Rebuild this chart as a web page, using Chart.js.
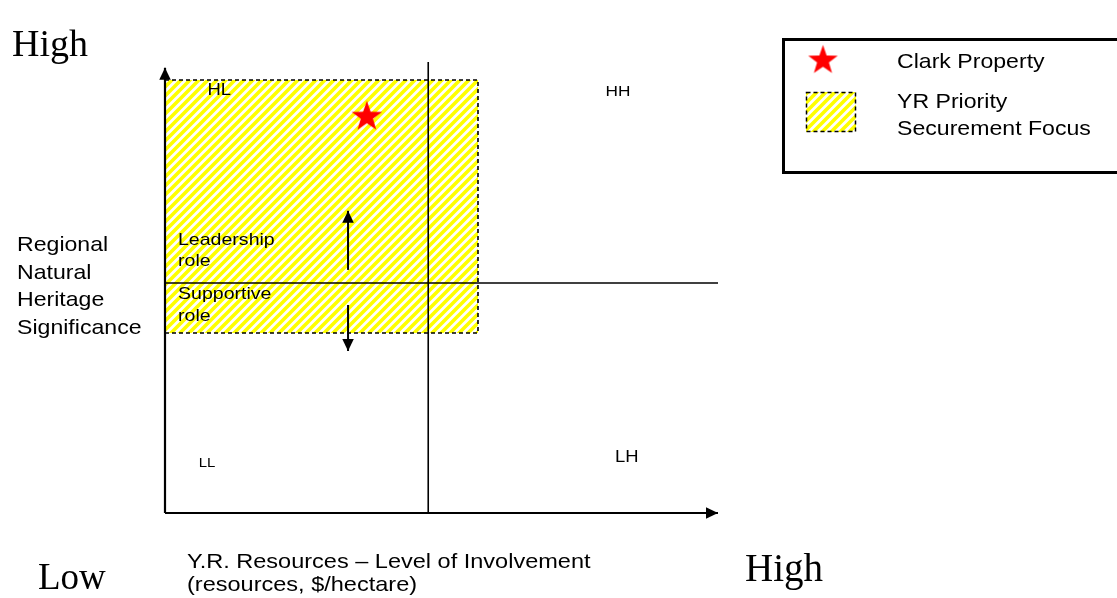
<!DOCTYPE html>
<html>
<head>
<meta charset="utf-8">
<script src="https://cdn.jsdelivr.net/npm/chart.js@4.4.0/dist/chart.umd.min.js"></script>
<style>
html,body{margin:0;padding:0;background:#fff;}
#wrap{width:1117px;height:598px;position:relative;}
</style>
</head>
<body>
<div id="wrap"><canvas id="c" width="1117" height="598"></canvas></div>
<script>
// ---- data (axis units 0..100 on both axes) ----
const xDivider = 47.6;               // resources split (Low | High)
const yDivider = 51;                 // significance split
const axisMaxX = 100;
const axisMaxY = 98.7;               // y-axis arrow tip
const dividerTopY = 100;
const focusX = [0, 56.6];            // YR Priority Securement Focus area
const focusY = [39.9, 96];
const clarkProperty = [{x: 36.5, y: 88.2}];
const quadrantLabels = ['HL', 'HH', 'LL', 'LH'];
const quadrantX = [9.8, 81.9, 7.6, 83.5];
const quadrantY = [93.6, 93.4, 11.1, 12.2];
const roleLabels = [['Leadership', 'role'], ['Supportive', 'role']];
const roleX = [2.35, 2.35];
const roleY = [[60.5, 55.7], [48.6, 43.7]];
const arrowX = 33.1;
const upArrowY = [53.9, 67.0];
const downArrowY = [46.1, 35.9];
const yAxisTitle = ['Regional', 'Natural', 'Heritage', 'Significance'];
const xAxisTitle = ['Y.R. Resources \u2013 Level of Involvement', '(resources, $/hectare)'];
const legendLabels = ['Clark Property', ['YR Priority', 'Securement Focus']];

// ---- helpers ----
function makeHatch() {
  const s = 9;
  const c = document.createElement('canvas');
  c.width = s; c.height = s;
  const g = c.getContext('2d');
  g.fillStyle = '#ffffff';
  g.fillRect(0, 0, s, s);
  g.strokeStyle = '#ffff00';
  g.lineWidth = 3.6;
  g.beginPath();
  g.moveTo(-s, s); g.lineTo(s, -s);
  g.moveTo(0, 2 * s); g.lineTo(2 * s, 0);
  g.moveTo(-s, 2 * s); g.lineTo(2 * s, -s);
  g.stroke();
  return g.createPattern(c, 'repeat');
}
function makeStar(r) {
  const size = Math.ceil(r * 2 + 2);
  const c = document.createElement('canvas');
  c.width = size; c.height = size;
  const g = c.getContext('2d');
  const cx = size / 2, cy = size / 2 + r * 0.1;
  const ri = r * 0.4;
  g.fillStyle = '#ff0000';
  g.beginPath();
  for (let i = 0; i < 10; i++) {
    const ang = -Math.PI / 2 + i * Math.PI / 5;
    const rr = i % 2 === 0 ? r : ri;
    const px = cx + rr * Math.cos(ang), py = cy + rr * Math.sin(ang);
    if (i === 0) g.moveTo(px, py); else g.lineTo(px, py);
  }
  g.closePath();
  g.fill();
  return c;
}
const hatch = makeHatch();
const starImg = makeStar(16);
const legendStar = makeStar(15.5);

function stretchText(ctx, text, x, y, sx) {
  ctx.save();
  ctx.translate(x, y);
  ctx.scale(sx, 1);
  ctx.fillText(text, 0, 0);
  ctx.restore();
}

const arrowPlugin = {
  id: 'arrows',
  afterDatasetsDraw(chart) {
    const ctx = chart.ctx;
    chart.data.datasets.forEach((ds, i) => {
      if (!ds.arrowHead) return;
      const pts = chart.getDatasetMeta(i).data;
      const a = pts[pts.length - 2], b = pts[pts.length - 1];
      const ang = Math.atan2(b.y - a.y, b.x - a.x);
      const L = ds.arrowHead, W = L * 0.48;
      ctx.save();
      ctx.fillStyle = '#000';
      ctx.beginPath();
      ctx.moveTo(b.x, b.y);
      ctx.lineTo(b.x - L * Math.cos(ang) + W * Math.sin(ang), b.y - L * Math.sin(ang) - W * Math.cos(ang));
      ctx.lineTo(b.x - L * Math.cos(ang) - W * Math.sin(ang), b.y - L * Math.sin(ang) + W * Math.cos(ang));
      ctx.closePath();
      ctx.fill();
      ctx.restore();
    });
  }
};

const SANS = '"Liberation Sans", Arial, sans-serif';
const SERIF = '"Liberation Serif", "Times New Roman", serif';

const textPlugin = {
  id: 'texts',
  afterDraw(chart) {
    const ctx = chart.ctx;
    const xs = chart.scales.x, ys = chart.scales.y;
    ctx.save();
    ctx.fillStyle = '#000';
    // quadrant labels
    ctx.textBaseline = 'middle';
    ctx.textAlign = 'left';
    const qSizes = [16, 15, 13, 16];
    quadrantLabels.forEach((t, i) => {
      ctx.font = qSizes[i] + 'px ' + SANS;
      const w = ctx.measureText(t).width * 1.15;
      stretchText(ctx, t, xs.getPixelForValue(quadrantX[i]) - w / 2, ys.getPixelForValue(quadrantY[i]), 1.15);
    });
    // role labels
    ctx.font = '17px ' + SANS;
    roleLabels.forEach((lines, i) => {
      lines.forEach((t, j) => {
        stretchText(ctx, t, xs.getPixelForValue(roleX[i]), ys.getPixelForValue(roleY[i][j]), 1.15);
      });
    });
    // serif High / Low
    ctx.textBaseline = 'alphabetic';
    ctx.font = '38px ' + SERIF;
    ctx.fillText('High', 12, 56);
    ctx.font = '37px ' + SERIF;
    ctx.fillText('Low', 38, 589);
    ctx.font = '39px ' + SERIF;
    ctx.fillText('High', 745, 581);
    // y title
    ctx.font = '21px ' + SANS;
    const yb = [251, 279, 306, 334];
    yAxisTitle.forEach((t, i) => stretchText(ctx, t, 17, yb[i], 1.1));
    // x title
    ctx.font = '21px ' + SANS;
    stretchText(ctx, xAxisTitle[0], 187, 568, 1.12);
    stretchText(ctx, xAxisTitle[1], 187, 591, 1.12);
    // legend
    ctx.lineWidth = 3;
    ctx.strokeStyle = '#000';
    ctx.strokeRect(783.5, 39.5, 340, 133);
    ctx.drawImage(legendStar, 823 - legendStar.width / 2, 59 - legendStar.height / 2);
    ctx.fillStyle = hatch;
    ctx.fillRect(806, 92, 50, 40);
    ctx.setLineDash([4, 3]);
    ctx.lineWidth = 1.5;
    ctx.strokeRect(806.5, 92.5, 49, 39);
    ctx.setLineDash([]);
    ctx.fillStyle = '#000';
    ctx.font = '21px ' + SANS;
    stretchText(ctx, legendLabels[0], 897, 68, 1.1);
    stretchText(ctx, legendLabels[1][0], 897, 108, 1.1);
    stretchText(ctx, legendLabels[1][1], 897, 135, 1.1);
    ctx.restore();
  }
};

const lineStyle = {borderColor: '#000', pointRadius: 0, tension: 0, fill: false, order: 1, clip: false};

new Chart(document.getElementById('c'), {
  type: 'line',
  data: {
    datasets: [
      {
        label: 'Clark Property', data: clarkProperty, showLine: false,
        pointStyle: starImg, pointRadius: 16, order: 0, clip: false
      },
      Object.assign({}, lineStyle, {label: 'x axis', data: [{x: 0, y: 0}, {x: axisMaxX, y: 0}], borderWidth: 2.2, arrowHead: 12}),
      Object.assign({}, lineStyle, {label: 'y axis', data: [{x: 0, y: 0}, {x: 0, y: axisMaxY}], borderWidth: 2.2, arrowHead: 12}),
      Object.assign({}, lineStyle, {label: 'v divider', data: [{x: xDivider, y: 0}, {x: xDivider, y: dividerTopY}], borderWidth: 1.6}),
      Object.assign({}, lineStyle, {label: 'h divider', data: [{x: 0, y: yDivider}, {x: axisMaxX, y: yDivider}], borderWidth: 1.6}),
      Object.assign({}, lineStyle, {label: 'up', data: [{x: arrowX, y: upArrowY[0]}, {x: arrowX, y: upArrowY[1]}], borderWidth: 2, arrowHead: 12}),
      Object.assign({}, lineStyle, {label: 'down', data: [{x: arrowX, y: downArrowY[0]}, {x: arrowX, y: downArrowY[1]}], borderWidth: 2, arrowHead: 12}),
      {
        label: 'YR Priority Securement Focus',
        data: [
          {x: focusX[0], y: focusY[0]}, {x: focusX[1], y: focusY[0]},
          {x: focusX[1], y: focusY[1]}, {x: focusX[0], y: focusY[1]},
          {x: focusX[0], y: focusY[0]}
        ],
        borderColor: '#000', borderWidth: 1.6, borderDash: [4, 3],
        backgroundColor: hatch, fill: 'shape', pointRadius: 0, tension: 0, order: 10, clip: false
      }
    ]
  },
  options: {
    responsive: false,
    animation: false,
    devicePixelRatio: 1,
    layout: {padding: {left: 165, right: 399, top: 62, bottom: 85}},
    scales: {
      x: {type: 'linear', min: 0, max: 100, display: false},
      y: {type: 'linear', min: 0, max: 100, display: false}
    },
    plugins: {legend: {display: false}, tooltip: {enabled: false}}
  },
  plugins: [arrowPlugin, textPlugin]
});
</script>
</body>
</html>
